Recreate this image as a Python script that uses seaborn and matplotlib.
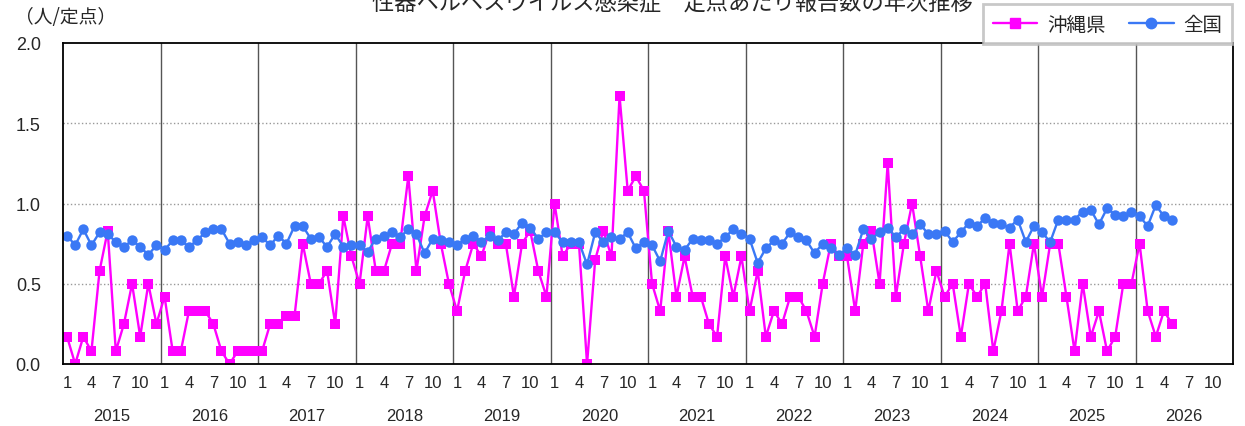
import matplotlib
matplotlib.use('Agg')
import matplotlib.pyplot as plt
from matplotlib.lines import Line2D
import numpy as np
import pandas as pd
import seaborn as sns

# monthly values, Jan 2015 -> May 2026
okinawa = [0.17, 0.0, 0.17, 0.08, 0.58, 0.83, 0.08, 0.25, 0.5, 0.17, 0.5, 0.25,
           0.42, 0.08, 0.08, 0.33, 0.33, 0.33, 0.25, 0.08, 0.0, 0.08, 0.08, 0.08,
           0.08, 0.25, 0.25, 0.3, 0.3, 0.75, 0.5, 0.5, 0.58, 0.25, 0.92, 0.67,
           0.5, 0.92, 0.58, 0.58, 0.75, 0.75, 1.17, 0.58, 0.92, 1.08, 0.75, 0.5,
           0.33, 0.58, 0.75, 0.67, 0.83, 0.75, 0.75, 0.42, 0.75, 0.83, 0.58, 0.42,
           1.0, 0.67, 0.75, 0.75, 0.0, 0.65, 0.83, 0.67, 1.67, 1.08, 1.17, 1.08,
           0.5, 0.33, 0.83, 0.42, 0.67, 0.42, 0.42, 0.25, 0.17, 0.67, 0.42, 0.67,
           0.33, 0.58, 0.17, 0.33, 0.25, 0.42, 0.42, 0.33, 0.17, 0.5, 0.75, 0.67,
           0.67, 0.33, 0.75, 0.83, 0.5, 1.25, 0.42, 0.75, 1.0, 0.67, 0.33, 0.58,
           0.42, 0.5, 0.17, 0.5, 0.42, 0.5, 0.08, 0.33, 0.75, 0.33, 0.42, 0.75,
           0.42, 0.75, 0.75, 0.42, 0.08, 0.5, 0.17, 0.33, 0.08, 0.17, 0.5, 0.5,
           0.75, 0.33, 0.17, 0.33, 0.25]

zenkoku = [0.80, 0.74, 0.84, 0.74, 0.82, 0.81, 0.76, 0.73, 0.77, 0.73, 0.68, 0.74,
           0.71, 0.77, 0.77, 0.73, 0.77, 0.82, 0.84, 0.84, 0.75, 0.76, 0.74, 0.77,
           0.79, 0.74, 0.80, 0.75, 0.86, 0.86, 0.78, 0.79, 0.73, 0.81, 0.73, 0.74,
           0.74, 0.70, 0.78, 0.80, 0.82, 0.79, 0.84, 0.81, 0.69, 0.78, 0.77, 0.76,
           0.74, 0.78, 0.80, 0.76, 0.80, 0.77, 0.82, 0.81, 0.88, 0.85, 0.78, 0.82,
           0.82, 0.76, 0.76, 0.76, 0.62, 0.82, 0.76, 0.79, 0.78, 0.82, 0.72, 0.76,
           0.74, 0.64, 0.83, 0.73, 0.71, 0.78, 0.77, 0.77, 0.75, 0.79, 0.84, 0.81,
           0.78, 0.63, 0.72, 0.77, 0.75, 0.82, 0.79, 0.77, 0.69, 0.75, 0.72, 0.68,
           0.72, 0.68, 0.84, 0.78, 0.82, 0.85, 0.79, 0.84, 0.81, 0.87, 0.81, 0.81,
           0.83, 0.76, 0.82, 0.88, 0.86, 0.91, 0.88, 0.87, 0.85, 0.90, 0.76, 0.86,
           0.82, 0.76, 0.90, 0.90, 0.90, 0.95, 0.96, 0.87, 0.97, 0.93, 0.92, 0.95,
           0.92, 0.86, 0.99, 0.92, 0.90]

years = list(range(2015, 2027))
month_labels = ['1', '4', '7', '10']
series_names = ['沖縄県', '全国']
colors = {'沖縄県': '#ff00ff', '全国': '#3a78f5'}

df = pd.concat([
    pd.DataFrame({'idx': np.arange(len(okinawa)), 'value': okinawa, 'region': series_names[0]}),
    pd.DataFrame({'idx': np.arange(len(zenkoku)), 'value': zenkoku, 'region': series_names[1]}),
])

sns.set_style('white')
plt.rcParams['font.family'] = ['Noto Sans CJK JP', 'DejaVu Sans']
narrow = ['Liberation Sans Narrow', 'Liberation Sans', 'DejaVu Sans']

fig = plt.figure(figsize=(12.45, 4.27), dpi=100)
ax = fig.add_axes([63 / 1245, 1 - 365 / 427, 1170 / 1245, 321 / 427])

sns.lineplot(data=df, x='idx', y='value', hue='region', style='region',
             hue_order=series_names, style_order=series_names,
             palette=colors, markers={'沖縄県': 's', '全国': 'o'}, dashes=False,
             markersize=7.5, markeredgewidth=0, linewidth=1.7, legend=False, ax=ax)

n_months = 12 * len(years)
ax.set_xlim(-0.5, n_months - 0.5)
ax.set_ylim(0, 2.0)

# horizontal dotted grid
for yv in [0.5, 1.0, 1.5]:
    ax.axhline(yv, color='#999999', linestyle=':', linewidth=1.0, zorder=0)
# year separators
for k in range(1, len(years)):
    ax.axvline(12 * k - 0.5, color='#555555', linewidth=1.0, zorder=0)

ax.set_yticks([0, 0.5, 1.0, 1.5, 2.0])
ax.set_yticklabels(['0.0', '0.5', '1.0', '1.5', '2.0'], family=['Liberation Sans', 'DejaVu Sans'], fontsize=13)
tick_pos = [12 * k + m for k in range(len(years)) for m in [0, 3, 6, 9]]
ax.set_xticks(tick_pos)
ax.set_xticklabels(month_labels * len(years), family=narrow, fontsize=12)
ax.tick_params(axis='y', length=0, pad=16)
ax.tick_params(axis='x', length=0, pad=8)
ax.set_xlabel('')
ax.set_ylabel('')

for k, yr in enumerate(years):
    ax.text(12 * k + 5.5, -0.16, str(yr), transform=ax.get_xaxis_transform(),
            ha='center', va='center', fontsize=12, family=narrow)

for s in ax.spines.values():
    s.set_color('black')
    s.set_linewidth(1.3)

fig.text(15 / 1245, 1 - 18 / 427, '（人/定点）', fontsize=13.5, ha='left', va='center')
fig.text(672 / 1245, 1 - 3 / 427, '性器ヘルペスウイルス感染症　定点あたり報告数の年次推移',
         fontsize=16, ha='center', va='center')

handles = [Line2D([], [], color=colors['沖縄県'], marker='s', markersize=7.5, linewidth=1.7),
           Line2D([], [], color=colors['全国'], marker='o', markersize=7.5, linewidth=1.7)]
leg = fig.legend(handles, series_names, loc='upper left', bbox_to_anchor=(983 / 1245, 1 - 5 / 427),
                 ncol=2, frameon=True, fancybox=False, edgecolor='#bbbbbb', fontsize=14,
                 handlelength=2.3, columnspacing=1.2, borderpad=0.5, handletextpad=0.5,
                 borderaxespad=0)
leg.get_frame().set_linewidth(2)

fig.savefig('out.png', dpi=100)
